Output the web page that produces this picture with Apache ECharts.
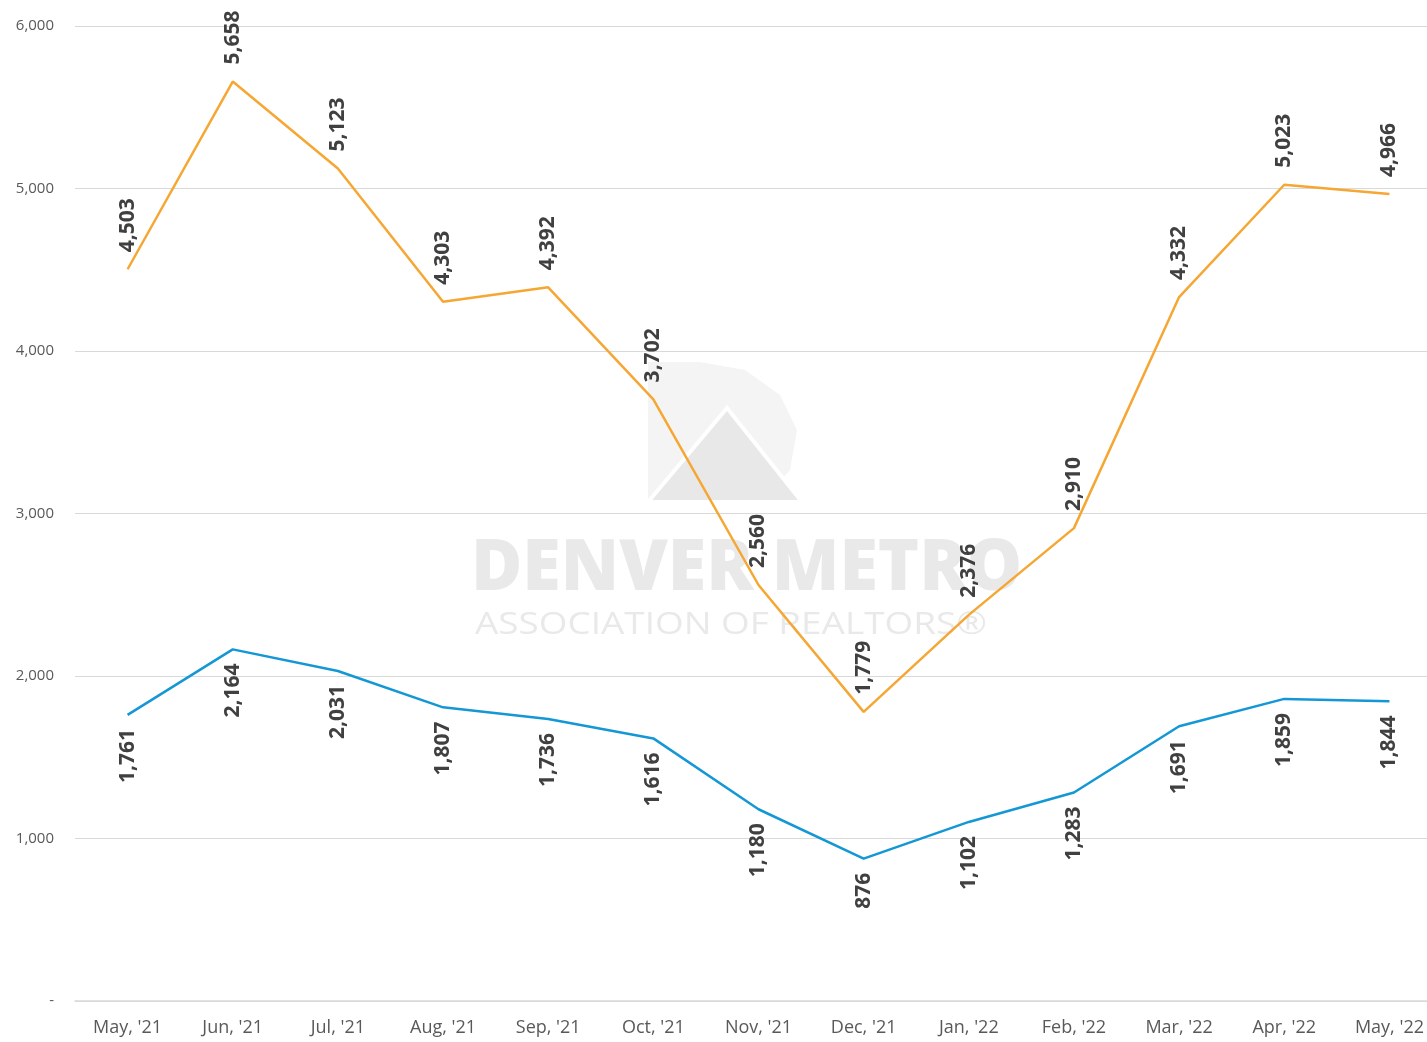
<!DOCTYPE html>
<html><head><meta charset="utf-8">
<script src="https://cdn.jsdelivr.net/npm/echarts@6/dist/echarts.min.js"></script>
<style>html,body{margin:0;padding:0;background:#fff;overflow:hidden}#c{width:1442px;height:1042px}</style>
</head><body><div id="c"></div>
<script>
const categories = ["May, '21","Jun, '21","Jul, '21","Aug, '21","Sep, '21","Oct, '21","Nov, '21","Dec, '21","Jan, '22","Feb, '22","Mar, '22","Apr, '22","May, '22"];
const orangeValues = [4503,5658,5123,4303,4392,3702,2560,1779,2376,2910,4332,5023,4966];
const blueValues = [1761,2164,2031,1807,1736,1616,1180,876,1102,1283,1691,1859,1844];
const yTicks = {min:0, max:6000, interval:1000};

const chart = echarts.init(document.getElementById('c'));
const fmt = v => v.toLocaleString('en-US');
const lblBase = {show:true, rotate:90, fontFamily:'Open Sans', fontWeight:'bold', fontSize:21, color:'#404040', formatter:p=>fmt(p.value)};
chart.setOption({
  animation:false,
  graphic:[
    {type:'group', z:-10, silent:true, children:[
      {type:'polygon', shape:{points:[[648,362],[700,362],[745,370],[780,395],[797,430],[790,470],[770,492],[740,502],[648,502]]}, style:{fill:'#f4f4f4'}},
      {type:'polygon', shape:{points:[[648,502],[727,408],[802,502]]}, style:{fill:'#e8e8e8', stroke:'#ffffff', lineWidth:4}},
      {type:'text', x:471, y:535, style:{text:'DENVER METRO', font:'800 70px "Open Sans"', fill:'#e9e9e9'}},
      {type:'text', x:475, y:610, scaleX:1.19, style:{text:'ASSOCIATION OF REALTORS®', font:'31px "Open Sans"', fill:'#e9e9e9'}}
    ]}
  ],
  grid:{left:75, top:26, bottom:41, right:0},
  xAxis:{type:'category', data:categories, boundaryGap:true,
    axisLine:{lineStyle:{color:'#d9d9d9', width:1.5}}, axisTick:{show:false},
    axisLabel:{color:'#595959', fontFamily:'Open Sans', fontSize:18, margin:18}},
  yAxis:{type:'value', min:yTicks.min, max:yTicks.max, interval:yTicks.interval,
    axisLine:{show:false}, axisTick:{show:false},
    splitLine:{lineStyle:{color:'#d9d9d9', width:1.2}},
    axisLabel:{color:'#595959', fontFamily:'Open Sans', fontSize:15, margin:21, formatter:v=>v===0?'-':fmt(v)}},
  series:[
    {type:'line', data:orangeValues, symbol:'circle', symbolSize:0.1, showSymbol:true,
      lineStyle:{color:'#F6A733', width:2.5}, itemStyle:{color:'#F6A733'},
      label:Object.assign({}, lblBase, {position:'top', align:'left', verticalAlign:'middle', distance:17})},
    {type:'line', data:blueValues, symbol:'circle', symbolSize:0.1, showSymbol:true,
      lineStyle:{color:'#1497D5', width:2.5}, itemStyle:{color:'#1497D5'},
      label:Object.assign({}, lblBase, {position:'bottom', align:'right', verticalAlign:'middle', distance:14})}
  ]
});
</script></body></html>
